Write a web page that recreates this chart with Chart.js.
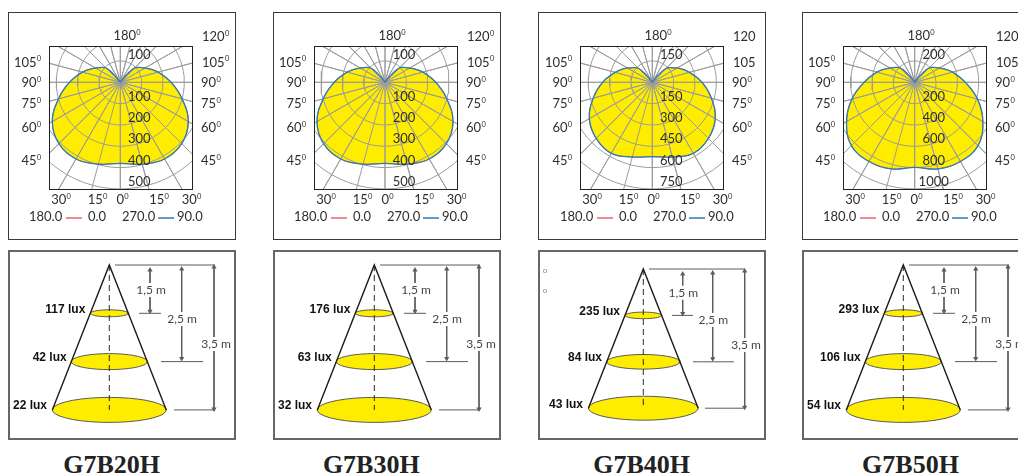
<!DOCTYPE html>
<html><head><meta charset="utf-8">
<script src="https://cdn.jsdelivr.net/npm/chart.js@4"></script>
<style>
html{overflow:hidden}
html,body{margin:0;padding:0;background:#fff;width:1018px;height:475px}
.frame{position:absolute;box-sizing:border-box;background:#fff}
.frame canvas{position:absolute}
.title{position:absolute;top:449px;width:200px;text-align:center;font:bold 26px/32px "Liberation Serif",serif;color:#222}
</style></head><body>
<script>
const products = ["G7B20H","G7B30H","G7B40H","G7B50H"];
const gammaAngles = [0,15,30,45,60,75,90,105,115,125,135,140,145,150,180];
const g7b20 = [380,397,415,407,368,300,238,184,150,120,95,50,6,0,0];
const g7b30 = [380,397,415,407,368,300,238,184,150,120,95,50,6,0,0];
const g7b40 = [523,544,577,558,511,430,350,270,225,178,140,75,10,0,0];
const g7b50 = [797,841,857,840,738,610,475,368,300,240,190,100,12,0,0];
const ringTicks20 = [100,200,300,400,500];
const ringTicks30 = [100,200,300,400,500];
const ringTicks40 = [150,300,450,600,750];
const ringTicks50 = [200,400,600,800,1000];
const rightDegLabels = ["120","105","90","75","60","45"];
const leftDegLabels = ["105","90","75","60","45"];
const bottomDegLabels = ["30","15","0","15","30"];
const legendLabels = ["180.0","0.0","270.0","90.0"];
const coneDistances = ["1,5 m","2,5 m","3,5 m"];
const coneLevels = [1,2,3];
const beamDiameters = [1,2,3];
const lux20 = ["117 lux","42 lux","22 lux"];
const lux30 = ["176 lux","63 lux","32 lux"];
const lux40 = ["235 lux","84 lux","43 lux"];
const lux50 = ["293 lux","106 lux","54 lux"];

const YEL="#ffed00", BLUE="#2a7db8", RED="#e8636d", GRID="#9c9c9c", TXT="#2e2e2e";
const FONT='"Lato"', LBL='13px '+FONT, SUP='7.5px '+FONT;
Chart.defaults.animation=false;

function mkFrame(x,y,w,h,bw,bc){
  const d=document.createElement('div');d.className='frame';
  d.style.cssText=`left:${x}px;top:${y}px;width:${w}px;height:${h}px;border:${bw}px solid ${bc}`;
  document.body.appendChild(d);
  const c=document.createElement('canvas');c.width=w;c.height=h;
  c.style.cssText=`left:${-bw}px;top:${-bw}px;width:${w}px;height:${h}px`;
  d.appendChild(c);return c;
}
function baseOptions(padding,xr,yr,reverse){
  return {responsive:false,animation:false,events:[],layout:{autoPadding:false,padding},
    plugins:{legend:{display:false},tooltip:{enabled:false}},
    elements:{point:{radius:0}},
    scales:{x:{type:'linear',display:false,min:xr[0],max:xr[1]},
            y:{type:'linear',display:false,min:yr[0],max:yr[1],reverse:!!reverse}}};
}
function deg(ctx,txt,x,y,align,sup){
  ctx.font=LBL;ctx.fillStyle=TXT;ctx.textBaseline='middle';ctx.textAlign='left';
  const w=ctx.measureText(txt).width, sw=sup?4.5:0, tot=w+sw;
  const x0=align==='right'?x-tot:align==='center'?x-tot/2:x;
  ctx.fillText(txt,x0,y);
  if(sup){ctx.font=SUP;ctx.fillText('0',x0+w+.3,y-3.5);}
}
function polar(cfg){
  const frameL=cfg.frameL, top=12, size=228, boxT=46, box=143, cy=82.3;
  const step=cfg.ticks[0], ppu=21.33/step;
  const L=cfg.boxL-frameL;
  const canvas=mkFrame(frameL,top,size,size,1,'#3a3a3a');
  const outer=cfg.ticks[4]*1.6;
  const toXY=(a,r)=>({x:r*Math.sin(a*Math.PI/180),y:-r*Math.cos(a*Math.PI/180)});
  const loop=[];
  for(let i=gammaAngles.length-1;i>=0;i--)loop.push(toXY(gammaAngles[i],cfg.vals[i]));
  for(let i=1;i<gammaAngles.length;i++)loop.push(toXY(-gammaAngles[i],cfg.vals[i]));
  const spokes=[];
  for(let a=0;a<360;a+=15){spokes.push({x:0,y:0});spokes.push(toXY(a,outer));}
  const rings=cfg.ticks.map(t=>{const p=[];for(let a=0;a<=360;a+=5)p.push(toXY(a,t));
    return {data:p,showLine:true,borderColor:GRID,borderWidth:1,tension:0,pointRadius:0,fill:false};});
  const datasets=[
    {label:'90.0',data:loop,showLine:true,borderColor:BLUE,borderWidth:1.3,tension:.4,pointRadius:0,fill:false},
    {label:'0.0',data:loop,showLine:true,borderColor:RED,borderWidth:1,tension:.4,pointRadius:0,fill:false},
    {data:spokes,showLine:true,borderColor:GRID,borderWidth:1,tension:0,pointRadius:0,fill:false},
    ...rings,
    {data:loop,showLine:true,borderWidth:0,borderColor:YEL,backgroundColor:YEL,tension:.4,pointRadius:0,fill:'shape'}
  ];
  const opts=baseOptions({left:L,top:boxT-top,right:size-L-box,bottom:size-(boxT-top)-box},
    [-(cfg.cx-cfg.boxL)/ppu,(cfg.boxL+box-cfg.cx)/ppu],[-(boxT+box-cy)/ppu,(cy-boxT)/ppu]);
  const plugin={id:'polarText',afterDraw(ch){
    const c=ch.ctx,a=ch.chartArea,sx=ch.scales.x,sy=ch.scales.y;
    c.save();
    c.strokeStyle='#222';c.lineWidth=1;c.strokeRect(a.left+.5,a.top+.5,box,box);
    c.font=LBL;c.fillStyle=TXT;c.textAlign='center';c.textBaseline='middle';
    const lx=sx.getPixelForValue(0)+19;
    c.fillText(cfg.ticks[0],lx,sy.getPixelForValue(step)-6.5);
    cfg.ticks.forEach(t=>c.fillText(t,lx,sy.getPixelForValue(-t)-7));
    const o=a.left, t0=-top;
    deg(c,'180',o+78,36+t0,'center',true);
    const rightY=[37,62.5,83,104,128,161], leftY=[62.5,83,104,128,161];
    rightDegLabels.forEach((s,i)=>deg(c,s,o+(i<2?153:152),rightY[i]+t0,'left',cfg.sup(i)));
    leftDegLabels.forEach((s,i)=>deg(c,s,o-8,leftY[i]+t0,'right',true));
    const bx=[12,48.5,73.5,110,142.5];
    bottomDegLabels.forEach((s,i)=>deg(c,s,o+bx[i],200+t0,'center',true));
    c.font=LBL;c.fillStyle=TXT;c.textAlign='left';c.textBaseline='middle';
    const ly=217+t0, lp=[-20,39,73,128];
    legendLabels.forEach((s,i)=>c.fillText(s,o+lp[i],ly));
    c.lineWidth=1.5;
    c.strokeStyle=RED;c.beginPath();c.moveTo(o+17,ly+1);c.lineTo(o+33,ly+1);c.stroke();
    c.strokeStyle=BLUE;c.beginPath();c.moveTo(o+109,ly+1);c.lineTo(o+125,ly+1);c.stroke();
    c.restore();
  }};
  new Chart(canvas,{type:'scatter',data:{datasets},options:opts,plugins:[plugin]});
}
function cone(cfg){
  const frameL=cfg.frameL, top=250, w=228, h=190, g=cfg.g;
  const canvas=mkFrame(frameL,top,w,h,2,'#666');
  const ax=cfg.apexX-frameL, pxM=g.hw/beamDiameters[0]*2, pxL=g.level;
  const mx=p=>p/pxM;
  const ell=coneLevels.map((lv,i)=>{
    const rx=beamDiameters[i]/2, ry=g.hh[i]/pxL, p=[];
    for(let a=0;a<=360;a+=10)p.push({x:rx*Math.cos(a*Math.PI/180),y:lv+ry*Math.sin(a*Math.PI/180)});
    return {data:p,showLine:true,borderColor:'#5a5a5a',borderWidth:1,backgroundColor:YEL,tension:0,pointRadius:0,fill:'shape'};
  });
  const last=coneLevels.length-1, R=beamDiameters[last]/2, Y=coneLevels[last];
  const line=(pts,col,lw,extra)=>Object.assign({data:pts,showLine:true,borderColor:col,borderWidth:lw,tension:0,pointRadius:0,fill:false},extra||{});
  const DIM='#5c5c5c';
  const arrow=(px,y0,y1)=>line([{x:mx(px),y:y0},{x:mx(px),y:y1}],DIM,1,
    {pointStyle:'triangle',pointRadius:3,pointRotation:[0,180],pointBackgroundColor:DIM,pointBorderColor:DIM,pointBorderWidth:0});
  const datasets=[
    ...g.arrows.map((x,i)=>arrow(x,g.arrowTop[i]/pxL,coneLevels[i]-g.arrowGap[i]/pxL)),
    line([{x:mx(g.topLine[0]),y:0},{x:mx(g.topLine[1]),y:0}],DIM,1),
    ...g.ticks.map((t,i)=>line([{x:mx(t[0]),y:coneLevels[i]},{x:mx(t[1]),y:coneLevels[i]}],DIM,1)),
    line([{x:-R,y:Y},{x:0,y:0},{x:R,y:Y}],'#1c1c1c',1.4),
    line([{x:0,y:0},{x:0,y:Y}],'#2a2a2a',1,{borderDash:[6,4]}),
    ...ell.reverse()
  ];
  const opts=baseOptions(0,[-ax/pxM,(w-ax)/pxM],[-(g.apexY-top)/pxL,(top+h-g.apexY)/pxL],true);
  const plugin={id:'coneText',afterDatasetsDraw(ch){
    const c=ch.ctx,sx=ch.scales.x,sy=ch.scales.y;
    c.save();c.textBaseline='middle';
    c.font='bold 12px "Liberation Sans"';c.fillStyle='#111';c.textAlign='right';
    cfg.lux.forEach((s,i)=>c.fillText(s,sx.getPixelForValue(0)+g.luxX[i],sy.getPixelForValue(coneLevels[i])-4));
    c.font='12px '+FONT;c.textAlign='center';
    coneDistances.forEach((s,i)=>{
      const x=sx.getPixelForValue(0)+g.textX[i], y=g.apexY-top+g.textY[i];
      const tw=c.measureText(s).width;
      c.fillStyle='#fff';c.fillRect(x-tw/2-1,y-7,tw+2,14);
      c.fillStyle='#444';c.fillText(s,x,y);
    });
    (cfg.stray||[]).forEach(y=>{c.font='8px '+FONT;c.fillStyle='#888';c.textAlign='center';c.fillText('o',7,y-top);});
    c.restore();
  }};
  new Chart(canvas,{type:'scatter',data:{datasets},options:opts,plugins:[plugin]});
}
const geoA={hw:19,level:48.3,apexY:265,hh:[3.5,8,12.5],
  arrows:[40.7,72.4,104.7],arrowTop:[5,4,2],arrowGap:[2,3,1],topLine:[5.7,105.7],
  ticks:[[29.7,51.7],[51.7,93.7],[64.7,105.7]],textX:[41.7,72.7,106.7],textY:[25,54,79],luxX:[-24,-42.6,-62.3]};
const geoB={hw:18.3,level:46.4,apexY:269,hh:[3.3,7.3,12],
  arrows:[39.4,69.4,101.4],arrowTop:[5,4,2],arrowGap:[2,3,1],topLine:[5.7,101.7],
  ticks:[[28.7,49.7],[49.7,90.7],[61.7,101.7]],textX:[40,70,102.7],textY:[23.7,51,76],luxX:[-23.3,-41.3,-60.3]};

const yes=()=>true;
polar({frameL:8,boxL:49,cx:120.3,ticks:ringTicks20,vals:g7b20,sup:yes});
polar({frameL:273,boxL:314,cx:385,ticks:ringTicks30,vals:g7b30,sup:yes});
polar({frameL:538,boxL:580,cx:652.3,ticks:ringTicks40,vals:g7b40,sup:i=>i>=2});
polar({frameL:802,boxL:843,cx:914.7,ticks:ringTicks50,vals:g7b50,sup:yes});
cone({frameL:8,apexX:109.3,g:geoA,lux:lux20});
cone({frameL:273,apexX:374.3,g:geoA,lux:lux30});
cone({frameL:538,apexX:643.3,g:geoB,lux:lux40,stray:[270.7,290.7]});
cone({frameL:802,apexX:903.3,g:geoA,lux:lux50});
[111.7,371.3,641.7,910.5].forEach((cx,i)=>{
  const t=document.createElement('div');t.className='title';t.textContent=products[i];
  t.style.left=(cx-100)+'px';document.body.appendChild(t);
});
</script></body></html>
